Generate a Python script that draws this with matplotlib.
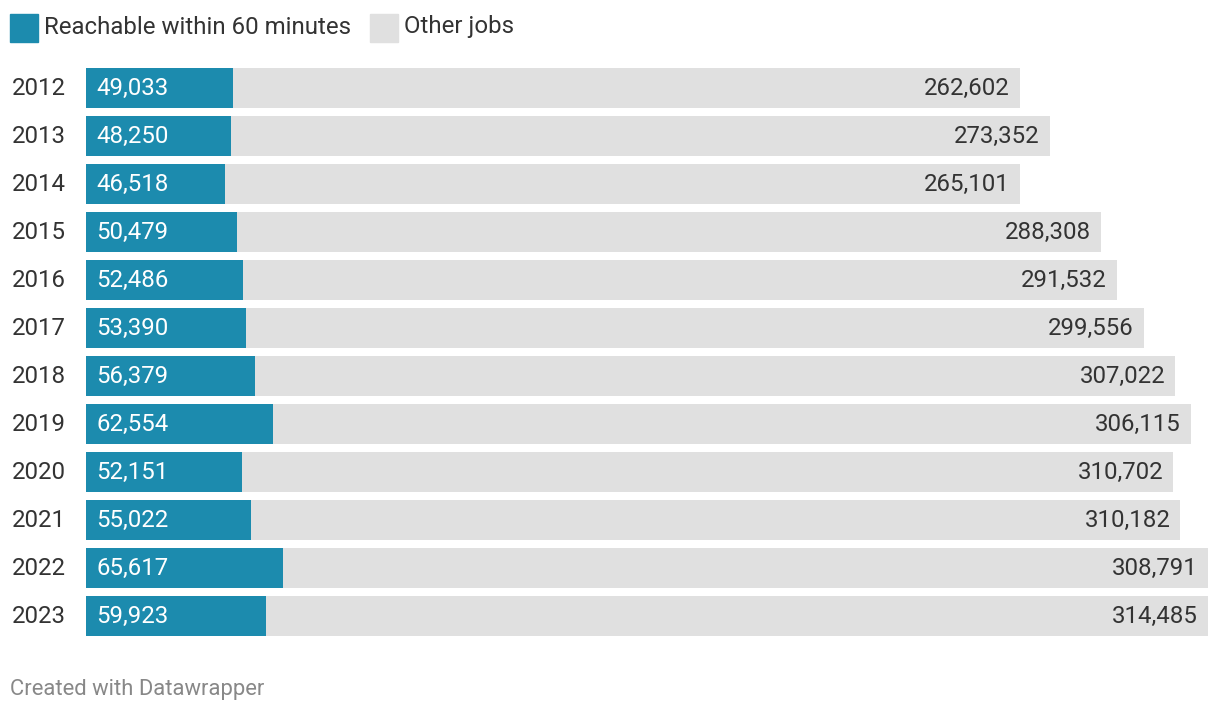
import matplotlib.pyplot as plt
from matplotlib.patches import Rectangle

years = ['2012', '2013', '2014', '2015', '2016', '2017',
         '2018', '2019', '2020', '2021', '2022', '2023']
reachable = [49033, 48250, 46518, 50479, 52486, 53390,
             56379, 62554, 52151, 55022, 65617, 59923]
other = [262602, 273352, 265101, 288308, 291532, 299556,
         307022, 306115, 310702, 310182, 308791, 314485]

blue = '#1c8bae'
grey = '#e0e0e0'
dark = '#333333'
fs = 17.3

plt.rcParams['font.family'] = ['Roboto', 'DejaVu Sans']

W, H = 1220, 714
fig = plt.figure(figsize=(W / 100, H / 100), dpi=100)

# axes spans the bar area: x 86..1208 px, y 64..640 px
ax = fig.add_axes([86 / W, (H - 640) / H, 1122 / W, 576 / H])
xmax = max(r + o for r, o in zip(reachable, other))
ax.set_xlim(0, xmax)
ax.set_ylim(len(years) - 0.5, -0.5)
ax.axis('off')

ys = range(len(years))
ax.barh(ys, reachable, height=40 / 48, color=blue)
ax.barh(ys, other, left=reachable, height=40 / 48, color=grey)

px = xmax / 1122  # data units per pixel
for i, (r, o) in enumerate(zip(reachable, other)):
    ax.text(10 * px, i + 0.02, f'{r:,}', color='white', fontsize=fs,
            va='center', ha='left')
    ax.text(r + o - 10 * px, i + 0.02, f'{o:,}', color=dark, fontsize=fs,
            va='center', ha='right')
    ax.text(-74 * px, i + 0.02, years[i], color=dark, fontsize=fs,
            va='center', ha='left')

# legend
fig.patches.append(Rectangle((10 / W, 1 - 42 / H), 28 / W, 28 / H,
                             color=blue, transform=fig.transFigure))
fig.text(44 / W, 1 - 27 / H, 'Reachable within 60 minutes', color=dark,
         fontsize=fs, va='center', ha='left')
fig.patches.append(Rectangle((370 / W, 1 - 42 / H), 28 / W, 28 / H,
                             color=grey, transform=fig.transFigure))
fig.text(404 / W, 1 - 27 / H, 'Other jobs', color=dark,
         fontsize=fs, va='center', ha='left')

fig.text(10 / W, 1 - 689 / H, 'Created with Datawrapper', color='#888888',
         fontsize=15.8, va='center', ha='left')

fig.savefig('out.png', dpi=100, facecolor='white')
